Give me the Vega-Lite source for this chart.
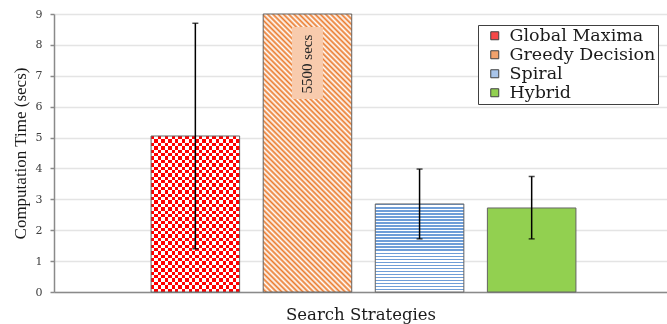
{
"$schema": "https://vega.github.io/schema/vega-lite/v6.json",
"width": 613, "height": 278,
"autosize": {"type": "none"},
"padding": {"left": 54, "top": 14, "right": 0, "bottom": 32},
"background": "white",
"config": {
  "view": {"stroke": null},
  "axisY": {"tickCount": 9, "grid": true, "gridColor": "#e4e4e4", "gridWidth": 1.5, "domainColor": "#8a8a8a", "domainWidth": 1.5, "tickColor": "#8a8a8a", "tickWidth": 1.5, "tickSize": 4, "labelFont": "DejaVu Serif", "labelFontSize": 11, "labelColor": "#404040", "labelPadding": 8, "titleFont": "Liberation Serif", "titleFontSize": 17, "titleFontWeight": "normal", "titleColor": "#1a1a1a", "titlePadding": 6}
},
"data": {"values": [
  {"strategy": "Global Maxima", "time": 5.05, "lo": 1.4, "hi": 8.7},
  {"strategy": "Greedy Decision", "time": 5500, "lo": null, "hi": null},
  {"strategy": "Spiral", "time": 2.85, "lo": 1.72, "hi": 3.98},
  {"strategy": "Hybrid", "time": 2.72, "lo": 1.72, "hi": 3.74}
]},
"encoding": {
  "x": {"field": "strategy", "type": "nominal",
    "scale": {"domain": ["Global Maxima", "Greedy Decision", "Spiral", "Hybrid"], "paddingInner": 0.21, "paddingOuter": 0.839, "align": 0.516},
    "axis": {"title": "Search Strategies", "labels": false, "ticks": false, "grid": false, "domainColor": "#8a8a8a", "domainWidth": 1.5, "titleFont": "DejaVu Serif", "titleFontSize": 16.5, "titleFontWeight": "normal", "titleColor": "#1a1a1a", "titlePadding": 14}}
},
"layer": [
  {"mark": {"type": "bar"},
   "encoding": {
     "y": {"field": "time", "type": "quantitative", "title": "Computation Time (secs)", "scale": {"domain": [0, 9], "clamp": true, "nice": false}},
     "fill": {"field": "strategy", "type": "nominal",
       "scale": {"domain": ["Global Maxima", "Greedy Decision", "Spiral", "Hybrid"],
         "range": ["#f54848", "#f2a26c", "#a9c5ea", "#92d050"]},
       "legend": {"title": null, "orient": "none", "legendX": 424, "legendY": 11, "padding": 2, "strokeColor": "#404040", "fillColor": "#ffffff", "labelFont": "DejaVu Serif", "labelFontSize": 17.5, "labelColor": "#1a1a1a", "symbolType": "square", "symbolSize": 64, "symbolOffset": 6, "labelOffset": 6, "rowPadding": 0, "symbolStrokeColor": "#404040", "symbolStrokeWidth": 1}}
   }},
  {"mark": {"type": "bar"},
   "encoding": {
     "y": {"field": "time", "type": "quantitative", "title": "Computation Time (secs)"},
     "fill": {"condition": [
       {"test": "datum.strategy === 'Global Maxima'", "value": {"gradient": "linear", "x1": 0, "y1": 0, "x2": 1, "y2": 0, "stops": [
{"offset":0,"color":"#f00"},{"offset":0.0385,"color":"#f00"},
{"offset":0.0385,"color":"#fff"},{"offset":0.0769,"color":"#fff"},
{"offset":0.0769,"color":"#f00"},{"offset":0.1154,"color":"#f00"},
{"offset":0.1154,"color":"#fff"},{"offset":0.1538,"color":"#fff"},
{"offset":0.1538,"color":"#f00"},{"offset":0.1923,"color":"#f00"},
{"offset":0.1923,"color":"#fff"},{"offset":0.2308,"color":"#fff"},
{"offset":0.2308,"color":"#f00"},{"offset":0.2692,"color":"#f00"},
{"offset":0.2692,"color":"#fff"},{"offset":0.3077,"color":"#fff"},
{"offset":0.3077,"color":"#f00"},{"offset":0.3462,"color":"#f00"},
{"offset":0.3462,"color":"#fff"},{"offset":0.3846,"color":"#fff"},
{"offset":0.3846,"color":"#f00"},{"offset":0.4231,"color":"#f00"},
{"offset":0.4231,"color":"#fff"},{"offset":0.4615,"color":"#fff"},
{"offset":0.4615,"color":"#f00"},{"offset":0.5,"color":"#f00"},
{"offset":0.5,"color":"#fff"},{"offset":0.5385,"color":"#fff"},
{"offset":0.5385,"color":"#f00"},{"offset":0.5769,"color":"#f00"},
{"offset":0.5769,"color":"#fff"},{"offset":0.6154,"color":"#fff"},
{"offset":0.6154,"color":"#f00"},{"offset":0.6538,"color":"#f00"},
{"offset":0.6538,"color":"#fff"},{"offset":0.6923,"color":"#fff"},
{"offset":0.6923,"color":"#f00"},{"offset":0.7308,"color":"#f00"},
{"offset":0.7308,"color":"#fff"},{"offset":0.7692,"color":"#fff"},
{"offset":0.7692,"color":"#f00"},{"offset":0.8077,"color":"#f00"},
{"offset":0.8077,"color":"#fff"},{"offset":0.8462,"color":"#fff"},
{"offset":0.8462,"color":"#f00"},{"offset":0.8846,"color":"#f00"},
{"offset":0.8846,"color":"#fff"},{"offset":0.9231,"color":"#fff"},
{"offset":0.9231,"color":"#f00"},{"offset":0.9615,"color":"#f00"},
{"offset":0.9615,"color":"#fff"},{"offset":1,"color":"#fff"}]}},
       {"test": "datum.strategy === 'Greedy Decision'", "value": {"gradient": "linear", "x1": 1, "y1": 0, "x2": 0.5613, "y2": 1.3767, "stops": [
{"offset":0,"color":"#ea7a2c"},{"offset":0.00625,"color":"#fff"},{"offset":0.0125,"color":"#ea7a2c"},{"offset":0.01875,"color":"#fff"},
{"offset":0.025,"color":"#ea7a2c"},{"offset":0.03125,"color":"#fff"},{"offset":0.0375,"color":"#ea7a2c"},{"offset":0.04375,"color":"#fff"},
{"offset":0.05,"color":"#ea7a2c"},{"offset":0.05625,"color":"#fff"},{"offset":0.0625,"color":"#ea7a2c"},{"offset":0.06875,"color":"#fff"},
{"offset":0.075,"color":"#ea7a2c"},{"offset":0.08125,"color":"#fff"},{"offset":0.0875,"color":"#ea7a2c"},{"offset":0.09375,"color":"#fff"},
{"offset":0.1,"color":"#ea7a2c"},{"offset":0.10625,"color":"#fff"},{"offset":0.1125,"color":"#ea7a2c"},{"offset":0.11875,"color":"#fff"},
{"offset":0.125,"color":"#ea7a2c"},{"offset":0.13125,"color":"#fff"},{"offset":0.1375,"color":"#ea7a2c"},{"offset":0.14375,"color":"#fff"},
{"offset":0.15,"color":"#ea7a2c"},{"offset":0.15625,"color":"#fff"},{"offset":0.1625,"color":"#ea7a2c"},{"offset":0.16875,"color":"#fff"},
{"offset":0.175,"color":"#ea7a2c"},{"offset":0.18125,"color":"#fff"},{"offset":0.1875,"color":"#ea7a2c"},{"offset":0.19375,"color":"#fff"},
{"offset":0.2,"color":"#ea7a2c"},{"offset":0.20625,"color":"#fff"},{"offset":0.2125,"color":"#ea7a2c"},{"offset":0.21875,"color":"#fff"},
{"offset":0.225,"color":"#ea7a2c"},{"offset":0.23125,"color":"#fff"},{"offset":0.2375,"color":"#ea7a2c"},{"offset":0.24375,"color":"#fff"},
{"offset":0.25,"color":"#ea7a2c"},{"offset":0.25625,"color":"#fff"},{"offset":0.2625,"color":"#ea7a2c"},{"offset":0.26875,"color":"#fff"},
{"offset":0.275,"color":"#ea7a2c"},{"offset":0.28125,"color":"#fff"},{"offset":0.2875,"color":"#ea7a2c"},{"offset":0.29375,"color":"#fff"},
{"offset":0.3,"color":"#ea7a2c"},{"offset":0.30625,"color":"#fff"},{"offset":0.3125,"color":"#ea7a2c"},{"offset":0.31875,"color":"#fff"},
{"offset":0.325,"color":"#ea7a2c"},{"offset":0.33125,"color":"#fff"},{"offset":0.3375,"color":"#ea7a2c"},{"offset":0.34375,"color":"#fff"},
{"offset":0.35,"color":"#ea7a2c"},{"offset":0.35625,"color":"#fff"},{"offset":0.3625,"color":"#ea7a2c"},{"offset":0.36875,"color":"#fff"},
{"offset":0.375,"color":"#ea7a2c"},{"offset":0.38125,"color":"#fff"},{"offset":0.3875,"color":"#ea7a2c"},{"offset":0.39375,"color":"#fff"},
{"offset":0.4,"color":"#ea7a2c"},{"offset":0.40625,"color":"#fff"},{"offset":0.4125,"color":"#ea7a2c"},{"offset":0.41875,"color":"#fff"},
{"offset":0.425,"color":"#ea7a2c"},{"offset":0.43125,"color":"#fff"},{"offset":0.4375,"color":"#ea7a2c"},{"offset":0.44375,"color":"#fff"},
{"offset":0.45,"color":"#ea7a2c"},{"offset":0.45625,"color":"#fff"},{"offset":0.4625,"color":"#ea7a2c"},{"offset":0.46875,"color":"#fff"},
{"offset":0.475,"color":"#ea7a2c"},{"offset":0.48125,"color":"#fff"},{"offset":0.4875,"color":"#ea7a2c"},{"offset":0.49375,"color":"#fff"},
{"offset":0.5,"color":"#ea7a2c"},{"offset":0.50625,"color":"#fff"},{"offset":0.5125,"color":"#ea7a2c"},{"offset":0.51875,"color":"#fff"},
{"offset":0.525,"color":"#ea7a2c"},{"offset":0.53125,"color":"#fff"},{"offset":0.5375,"color":"#ea7a2c"},{"offset":0.54375,"color":"#fff"},
{"offset":0.55,"color":"#ea7a2c"},{"offset":0.55625,"color":"#fff"},{"offset":0.5625,"color":"#ea7a2c"},{"offset":0.56875,"color":"#fff"},
{"offset":0.575,"color":"#ea7a2c"},{"offset":0.58125,"color":"#fff"},{"offset":0.5875,"color":"#ea7a2c"},{"offset":0.59375,"color":"#fff"},
{"offset":0.6,"color":"#ea7a2c"},{"offset":0.60625,"color":"#fff"},{"offset":0.6125,"color":"#ea7a2c"},{"offset":0.61875,"color":"#fff"},
{"offset":0.625,"color":"#ea7a2c"},{"offset":0.63125,"color":"#fff"},{"offset":0.6375,"color":"#ea7a2c"},{"offset":0.64375,"color":"#fff"},
{"offset":0.65,"color":"#ea7a2c"},{"offset":0.65625,"color":"#fff"},{"offset":0.6625,"color":"#ea7a2c"},{"offset":0.66875,"color":"#fff"},
{"offset":0.675,"color":"#ea7a2c"},{"offset":0.68125,"color":"#fff"},{"offset":0.6875,"color":"#ea7a2c"},{"offset":0.69375,"color":"#fff"},
{"offset":0.7,"color":"#ea7a2c"},{"offset":0.70625,"color":"#fff"},{"offset":0.7125,"color":"#ea7a2c"},{"offset":0.71875,"color":"#fff"},
{"offset":0.725,"color":"#ea7a2c"},{"offset":0.73125,"color":"#fff"},{"offset":0.7375,"color":"#ea7a2c"},{"offset":0.74375,"color":"#fff"},
{"offset":0.75,"color":"#ea7a2c"},{"offset":0.75625,"color":"#fff"},{"offset":0.7625,"color":"#ea7a2c"},{"offset":0.76875,"color":"#fff"},
{"offset":0.775,"color":"#ea7a2c"},{"offset":0.78125,"color":"#fff"},{"offset":0.7875,"color":"#ea7a2c"},{"offset":0.79375,"color":"#fff"},
{"offset":0.8,"color":"#ea7a2c"},{"offset":0.80625,"color":"#fff"},{"offset":0.8125,"color":"#ea7a2c"},{"offset":0.81875,"color":"#fff"},
{"offset":0.825,"color":"#ea7a2c"},{"offset":0.83125,"color":"#fff"},{"offset":0.8375,"color":"#ea7a2c"},{"offset":0.84375,"color":"#fff"},
{"offset":0.85,"color":"#ea7a2c"},{"offset":0.85625,"color":"#fff"},{"offset":0.8625,"color":"#ea7a2c"},{"offset":0.86875,"color":"#fff"},
{"offset":0.875,"color":"#ea7a2c"},{"offset":0.88125,"color":"#fff"},{"offset":0.8875,"color":"#ea7a2c"},{"offset":0.89375,"color":"#fff"},
{"offset":0.9,"color":"#ea7a2c"},{"offset":0.90625,"color":"#fff"},{"offset":0.9125,"color":"#ea7a2c"},{"offset":0.91875,"color":"#fff"},
{"offset":0.925,"color":"#ea7a2c"},{"offset":0.93125,"color":"#fff"},{"offset":0.9375,"color":"#ea7a2c"},{"offset":0.94375,"color":"#fff"},
{"offset":0.95,"color":"#ea7a2c"},{"offset":0.95625,"color":"#fff"},{"offset":0.9625,"color":"#ea7a2c"},{"offset":0.96875,"color":"#fff"},
{"offset":0.975,"color":"#ea7a2c"},{"offset":0.98125,"color":"#fff"},{"offset":0.9875,"color":"#ea7a2c"},{"offset":0.99375,"color":"#fff"},
{"offset":1,"color":"#ea7a2c"}]}},
       {"test": "datum.strategy === 'Spiral'", "value": {"gradient": "linear", "x1": 0, "y1": 0, "x2": 0, "y2": 1, "stops": [
{"offset":0,"color":"#6f9ed8"},{"offset":0.0172,"color":"#6f9ed8"},{"offset":0.0172,"color":"#fff"},{"offset":0.0345,"color":"#fff"},
{"offset":0.0345,"color":"#6f9ed8"},{"offset":0.0517,"color":"#6f9ed8"},{"offset":0.0517,"color":"#fff"},{"offset":0.069,"color":"#fff"},
{"offset":0.069,"color":"#6f9ed8"},{"offset":0.0862,"color":"#6f9ed8"},{"offset":0.0862,"color":"#fff"},{"offset":0.1034,"color":"#fff"},
{"offset":0.1034,"color":"#6f9ed8"},{"offset":0.1207,"color":"#6f9ed8"},{"offset":0.1207,"color":"#fff"},{"offset":0.1379,"color":"#fff"},
{"offset":0.1379,"color":"#6f9ed8"},{"offset":0.1552,"color":"#6f9ed8"},{"offset":0.1552,"color":"#fff"},{"offset":0.1724,"color":"#fff"},
{"offset":0.1724,"color":"#6f9ed8"},{"offset":0.1897,"color":"#6f9ed8"},{"offset":0.1897,"color":"#fff"},{"offset":0.2069,"color":"#fff"},
{"offset":0.2069,"color":"#6f9ed8"},{"offset":0.2241,"color":"#6f9ed8"},{"offset":0.2241,"color":"#fff"},{"offset":0.2414,"color":"#fff"},
{"offset":0.2414,"color":"#6f9ed8"},{"offset":0.2586,"color":"#6f9ed8"},{"offset":0.2586,"color":"#fff"},{"offset":0.2759,"color":"#fff"},
{"offset":0.2759,"color":"#6f9ed8"},{"offset":0.2931,"color":"#6f9ed8"},{"offset":0.2931,"color":"#fff"},{"offset":0.3103,"color":"#fff"},
{"offset":0.3103,"color":"#6f9ed8"},{"offset":0.3276,"color":"#6f9ed8"},{"offset":0.3276,"color":"#fff"},{"offset":0.3448,"color":"#fff"},
{"offset":0.3448,"color":"#6f9ed8"},{"offset":0.3621,"color":"#6f9ed8"},{"offset":0.3621,"color":"#fff"},{"offset":0.3793,"color":"#fff"},
{"offset":0.3793,"color":"#6f9ed8"},{"offset":0.3966,"color":"#6f9ed8"},{"offset":0.3966,"color":"#fff"},{"offset":0.4138,"color":"#fff"},
{"offset":0.4138,"color":"#6f9ed8"},{"offset":0.431,"color":"#6f9ed8"},{"offset":0.431,"color":"#fff"},{"offset":0.4483,"color":"#fff"},
{"offset":0.4483,"color":"#6f9ed8"},{"offset":0.4655,"color":"#6f9ed8"},{"offset":0.4655,"color":"#fff"},{"offset":0.4828,"color":"#fff"},
{"offset":0.4828,"color":"#6f9ed8"},{"offset":0.5,"color":"#6f9ed8"},{"offset":0.5,"color":"#fff"},{"offset":0.5172,"color":"#fff"},
{"offset":0.5172,"color":"#6f9ed8"},{"offset":0.5345,"color":"#6f9ed8"},{"offset":0.5345,"color":"#fff"},{"offset":0.5517,"color":"#fff"},
{"offset":0.5517,"color":"#6f9ed8"},{"offset":0.569,"color":"#6f9ed8"},{"offset":0.569,"color":"#fff"},{"offset":0.5862,"color":"#fff"},
{"offset":0.5862,"color":"#6f9ed8"},{"offset":0.6034,"color":"#6f9ed8"},{"offset":0.6034,"color":"#fff"},{"offset":0.6207,"color":"#fff"},
{"offset":0.6207,"color":"#6f9ed8"},{"offset":0.6379,"color":"#6f9ed8"},{"offset":0.6379,"color":"#fff"},{"offset":0.6552,"color":"#fff"},
{"offset":0.6552,"color":"#6f9ed8"},{"offset":0.6724,"color":"#6f9ed8"},{"offset":0.6724,"color":"#fff"},{"offset":0.6897,"color":"#fff"},
{"offset":0.6897,"color":"#6f9ed8"},{"offset":0.7069,"color":"#6f9ed8"},{"offset":0.7069,"color":"#fff"},{"offset":0.7241,"color":"#fff"},
{"offset":0.7241,"color":"#6f9ed8"},{"offset":0.7414,"color":"#6f9ed8"},{"offset":0.7414,"color":"#fff"},{"offset":0.7586,"color":"#fff"},
{"offset":0.7586,"color":"#6f9ed8"},{"offset":0.7759,"color":"#6f9ed8"},{"offset":0.7759,"color":"#fff"},{"offset":0.7931,"color":"#fff"},
{"offset":0.7931,"color":"#6f9ed8"},{"offset":0.8103,"color":"#6f9ed8"},{"offset":0.8103,"color":"#fff"},{"offset":0.8276,"color":"#fff"},
{"offset":0.8276,"color":"#6f9ed8"},{"offset":0.8448,"color":"#6f9ed8"},{"offset":0.8448,"color":"#fff"},{"offset":0.8621,"color":"#fff"},
{"offset":0.8621,"color":"#6f9ed8"},{"offset":0.8793,"color":"#6f9ed8"},{"offset":0.8793,"color":"#fff"},{"offset":0.8966,"color":"#fff"},
{"offset":0.8966,"color":"#6f9ed8"},{"offset":0.9138,"color":"#6f9ed8"},{"offset":0.9138,"color":"#fff"},{"offset":0.931,"color":"#fff"},
{"offset":0.931,"color":"#6f9ed8"},{"offset":0.9483,"color":"#6f9ed8"},{"offset":0.9483,"color":"#fff"},{"offset":0.9655,"color":"#fff"},
{"offset":0.9655,"color":"#6f9ed8"},{"offset":0.9828,"color":"#6f9ed8"},{"offset":0.9828,"color":"#fff"},{"offset":1,"color":"#fff"}]}}
     ], "value": "#92d050"}
   }},
  {"transform": [{"filter": "datum.strategy === 'Global Maxima'"}],
   "mark": {"type": "bar", "blend": "difference", "fill": {"gradient": "linear", "x1": 0, "y1": 0, "x2": 0, "y2": 1, "stops": [
{"offset":0,"color":"#000"},{"offset":0.0217,"color":"#000"},{"offset":0.0217,"color":"#0ff"},{"offset":0.0435,"color":"#0ff"},
{"offset":0.0435,"color":"#000"},{"offset":0.0652,"color":"#000"},{"offset":0.0652,"color":"#0ff"},{"offset":0.087,"color":"#0ff"},
{"offset":0.087,"color":"#000"},{"offset":0.1087,"color":"#000"},{"offset":0.1087,"color":"#0ff"},{"offset":0.1304,"color":"#0ff"},
{"offset":0.1304,"color":"#000"},{"offset":0.1522,"color":"#000"},{"offset":0.1522,"color":"#0ff"},{"offset":0.1739,"color":"#0ff"},
{"offset":0.1739,"color":"#000"},{"offset":0.1957,"color":"#000"},{"offset":0.1957,"color":"#0ff"},{"offset":0.2174,"color":"#0ff"},
{"offset":0.2174,"color":"#000"},{"offset":0.2391,"color":"#000"},{"offset":0.2391,"color":"#0ff"},{"offset":0.2609,"color":"#0ff"},
{"offset":0.2609,"color":"#000"},{"offset":0.2826,"color":"#000"},{"offset":0.2826,"color":"#0ff"},{"offset":0.3043,"color":"#0ff"},
{"offset":0.3043,"color":"#000"},{"offset":0.3261,"color":"#000"},{"offset":0.3261,"color":"#0ff"},{"offset":0.3478,"color":"#0ff"},
{"offset":0.3478,"color":"#000"},{"offset":0.3696,"color":"#000"},{"offset":0.3696,"color":"#0ff"},{"offset":0.3913,"color":"#0ff"},
{"offset":0.3913,"color":"#000"},{"offset":0.413,"color":"#000"},{"offset":0.413,"color":"#0ff"},{"offset":0.4348,"color":"#0ff"},
{"offset":0.4348,"color":"#000"},{"offset":0.4565,"color":"#000"},{"offset":0.4565,"color":"#0ff"},{"offset":0.4783,"color":"#0ff"},
{"offset":0.4783,"color":"#000"},{"offset":0.5,"color":"#000"},{"offset":0.5,"color":"#0ff"},{"offset":0.5217,"color":"#0ff"},
{"offset":0.5217,"color":"#000"},{"offset":0.5435,"color":"#000"},{"offset":0.5435,"color":"#0ff"},{"offset":0.5652,"color":"#0ff"},
{"offset":0.5652,"color":"#000"},{"offset":0.587,"color":"#000"},{"offset":0.587,"color":"#0ff"},{"offset":0.6087,"color":"#0ff"},
{"offset":0.6087,"color":"#000"},{"offset":0.6304,"color":"#000"},{"offset":0.6304,"color":"#0ff"},{"offset":0.6522,"color":"#0ff"},
{"offset":0.6522,"color":"#000"},{"offset":0.6739,"color":"#000"},{"offset":0.6739,"color":"#0ff"},{"offset":0.6957,"color":"#0ff"},
{"offset":0.6957,"color":"#000"},{"offset":0.7174,"color":"#000"},{"offset":0.7174,"color":"#0ff"},{"offset":0.7391,"color":"#0ff"},
{"offset":0.7391,"color":"#000"},{"offset":0.7609,"color":"#000"},{"offset":0.7609,"color":"#0ff"},{"offset":0.7826,"color":"#0ff"},
{"offset":0.7826,"color":"#000"},{"offset":0.8043,"color":"#000"},{"offset":0.8043,"color":"#0ff"},{"offset":0.8261,"color":"#0ff"},
{"offset":0.8261,"color":"#000"},{"offset":0.8478,"color":"#000"},{"offset":0.8478,"color":"#0ff"},{"offset":0.8696,"color":"#0ff"},
{"offset":0.8696,"color":"#000"},{"offset":0.8913,"color":"#000"},{"offset":0.8913,"color":"#0ff"},{"offset":0.913,"color":"#0ff"},
{"offset":0.913,"color":"#000"},{"offset":0.9348,"color":"#000"},{"offset":0.9348,"color":"#0ff"},{"offset":0.9565,"color":"#0ff"},
{"offset":0.9565,"color":"#000"},{"offset":0.9783,"color":"#000"},{"offset":0.9783,"color":"#0ff"},{"offset":1,"color":"#0ff"}]}},
   "encoding": {"y": {"field": "time", "type": "quantitative", "title": "Computation Time (secs)"}}},
  {"mark": {"type": "bar", "filled": false, "stroke": "#666666", "strokeWidth": 1},
   "encoding": {"y": {"field": "time", "type": "quantitative", "title": "Computation Time (secs)"}}},
  {"transform": [{"filter": "datum.strategy === 'Greedy Decision'"}],
   "mark": {"type": "bar", "width": 31, "fill": "#f8cbad"},
   "encoding": {"y": {"datum": 8.58, "type": "quantitative", "title": "Computation Time (secs)"}, "y2": {"datum": 6.25}}},
  {"transform": [{"filter": "datum.strategy === 'Greedy Decision'"}],
   "mark": {"type": "text", "text": "5500 secs", "angle": 270, "font": "Liberation Serif", "fontSize": 15, "color": "#262626", "align": "center", "baseline": "middle"},
   "encoding": {"y": {"datum": 7.38, "type": "quantitative", "title": "Computation Time (secs)"}}},
  {"transform": [{"filter": "datum.lo != null"}],
   "mark": {"type": "rule", "color": "#000000", "strokeWidth": 1.5},
   "encoding": {"y": {"field": "lo", "type": "quantitative", "title": "Computation Time (secs)"}, "y2": {"field": "hi"}}},
  {"transform": [{"filter": "datum.lo != null"}],
   "mark": {"type": "tick", "color": "#000000", "size": 6, "thickness": 1.5},
   "encoding": {"y": {"field": "lo", "type": "quantitative", "title": "Computation Time (secs)"}}},
  {"transform": [{"filter": "datum.lo != null"}],
   "mark": {"type": "tick", "color": "#000000", "size": 6, "thickness": 1.5},
   "encoding": {"y": {"field": "hi", "type": "quantitative", "title": "Computation Time (secs)"}}}
]
}
